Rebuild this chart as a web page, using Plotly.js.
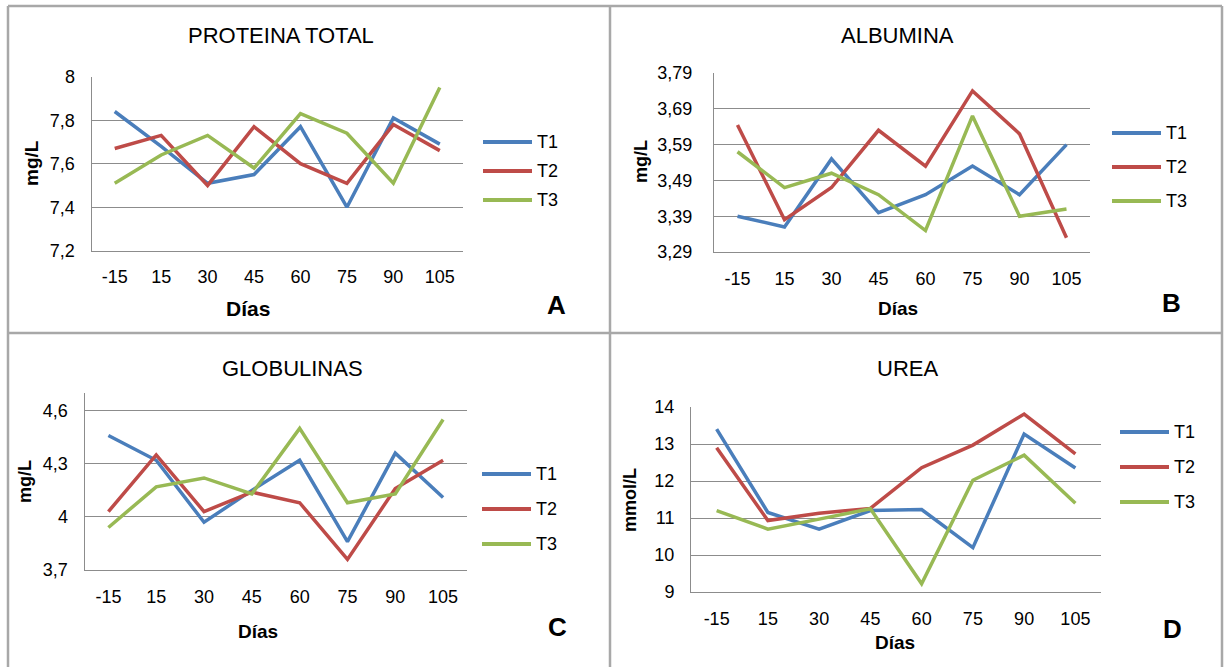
<!DOCTYPE html>
<html>
<head>
<meta charset="utf-8">
<script src="https://cdn.plot.ly/plotly-3.0.1.min.js"></script>
<style>html,body{margin:0;padding:0;background:#fff;}#chart{width:1224px;height:667px;}</style>
</head>
<body>
<div id="chart"></div>
<script>
// ---------- DATA ----------
const days = ['-15', '15', '30', '45', '60', '75', '90', '105'];
const seriesNames = ['T1', 'T2', 'T3'];

const proteinaT1 = [7.84, 7.68, 7.51, 7.55, 7.77, 7.40, 7.81, 7.69];
const proteinaT2 = [7.67, 7.73, 7.50, 7.77, 7.60, 7.51, 7.78, 7.66];
const proteinaT3 = [7.51, 7.64, 7.73, 7.58, 7.83, 7.74, 7.51, 7.95];

const albuminaT1 = [3.39, 3.36, 3.55, 3.40, 3.45, 3.53, 3.45, 3.59];
const albuminaT2 = [3.645, 3.38, 3.47, 3.63, 3.53, 3.74, 3.62, 3.33];
const albuminaT3 = [3.57, 3.47, 3.51, 3.45, 3.35, 3.67, 3.39, 3.41];

const globulinasT1 = [4.46, 4.32, 3.97, 4.15, 4.32, 3.86, 4.36, 4.11];
const globulinasT2 = [4.03, 4.35, 4.03, 4.14, 4.08, 3.76, 4.16, 4.32];
const globulinasT3 = [3.94, 4.17, 4.22, 4.13, 4.50, 4.08, 4.13, 4.55];

const ureaT1 = [13.40, 11.15, 10.70, 11.20, 11.23, 10.20, 13.27, 12.35];
const ureaT2 = [12.90, 10.93, 11.13, 11.26, 12.36, 12.97, 13.81, 12.73];
const ureaT3 = [11.20, 10.70, 10.97, 11.25, 9.22, 12.02, 12.70, 11.40];

const proteinaTickVals = [7.2, 7.4, 7.6, 7.8, 8];
const proteinaTickText = ['7,2', '7,4', '7,6', '7,8', '8'];
const albuminaTickVals = [3.29, 3.39, 3.49, 3.59, 3.69, 3.79];
const albuminaTickText = ['3,29', '3,39', '3,49', '3,59', '3,69', '3,79'];
const globulinasTickVals = [3.7, 4.0, 4.3, 4.6];
const globulinasTickText = ['3,7', '4', '4,3', '4,6'];
const ureaTickVals = [9, 10, 11, 12, 13, 14];
const ureaTickText = ['9', '10', '11', '12', '13', '14'];

const panelTitles = ['PROTEINA TOTAL', 'ALBUMINA', 'GLOBULINAS', 'UREA'];
const yTitles = ['mg/L', 'mg/L', 'mg/L', 'mmol/L'];
const xTitle = 'Días';
const panelLetters = ['A', 'B', 'C', 'D'];

// ---------- STYLE / LAYOUT ----------
const W = 1224, H = 667;
const colors = ['#4A7EBB', '#BE4B48', '#98B954'];
const FONT = 'Liberation Sans, Arial, sans-serif';
const gridColor = '#8c8c8c';
const px = x => x / W;
const py = y => 1 - y / H;

const panels = [
  { series: [proteinaT1, proteinaT2, proteinaT3], range: [7.2, 8], tv: proteinaTickVals, tt: proteinaTickText,
    box: [91.5, 463, 76.7, 250.7], title: [281, 36], xt: [248, 308, 21], yt: [31, 163, 19], letter: [556, 305],
    legend: [483, 532, [142, 171, 200]], ystand: 12 },
  { series: [albuminaT1, albuminaT2, albuminaT3], range: [3.29, 3.79], tv: albuminaTickVals, tt: albuminaTickText,
    box: [714, 1090, 73, 252], title: [898, 36], xt: [898, 308, 19], yt: [641, 162, 18], letter: [1171, 303],
    legend: [1112, 1161, [133, 167, 201]], ystand: 17 },
  { series: [globulinasT1, globulinasT2, globulinasT3], range: [3.7, 4.7], tv: globulinasTickVals, tt: globulinasTickText,
    box: [84.5, 467, 393, 570], title: [292, 368], xt: [258, 631, 19], yt: [25, 482, 18], letter: [557, 627],
    legend: [482, 531, [474, 509, 544]], ystand: 12 },
  { series: [ureaT1, ureaT2, ureaT3], range: [9, 14], tv: ureaTickVals, tt: ureaTickText,
    box: [691, 1101, 407, 592], title: [907, 368], xt: [895, 642, 19], yt: [630, 500, 18], letter: [1172, 629],
    legend: [1120, 1169, [432, 467, 502]], ystand: 12 }
];

const traces = [];
const layout = {
  width: W, height: H,
  margin: { l: 0, r: 0, t: 0, b: 0 },
  paper_bgcolor: '#ffffff', plot_bgcolor: '#ffffff',
  showlegend: false,
  font: { family: FONT, color: '#000000', size: 18 },
  annotations: [],
  shapes: []
};

panels.forEach((p, i) => {
  const n = i + 1;
  const xa = n === 1 ? 'x' : 'x' + n;
  const ya = n === 1 ? 'y' : 'y' + n;
  p.series.forEach((vals, s) => {
    traces.push({
      type: 'scatter', mode: 'lines', x: days, y: vals, name: seriesNames[s],
      xaxis: xa, yaxis: ya,
      line: { color: colors[s], width: 3.5 },
      hoverinfo: 'skip'
    });
  });
  layout['xaxis' + (n === 1 ? '' : n)] = {
    domain: [px(p.box[0]), px(p.box[1])],
    anchor: ya, type: 'category', range: [-0.5, 7.5],
    showgrid: false, zeroline: false, showline: true, linecolor: gridColor, linewidth: 1,
    ticks: '', tickfont: { family: FONT, size: 18, color: '#000' }, ticklabelstandoff: 10,
    fixedrange: true
  };
  layout['yaxis' + (n === 1 ? '' : n)] = {
    domain: [py(p.box[3]), py(p.box[2])],
    anchor: xa, range: p.range, tickvals: p.tv, ticktext: p.tt,
    showgrid: true, gridcolor: gridColor, gridwidth: 1,
    zeroline: false, showline: true, linecolor: gridColor, linewidth: 1,
    ticks: '', tickfont: { family: FONT, size: 18, color: '#000' }, ticklabelstandoff: p.ystand,
    fixedrange: true
  };
  // titles
  layout.annotations.push({ xref: 'paper', yref: 'paper', x: px(p.title[0]), y: py(p.title[1]),
    text: panelTitles[i], showarrow: false, xanchor: 'center', yanchor: 'middle',
    font: { family: FONT, size: 22, color: '#000' } });
  layout.annotations.push({ xref: 'paper', yref: 'paper', x: px(p.xt[0]), y: py(p.xt[1]),
    text: '<b>' + xTitle + '</b>', showarrow: false, xanchor: 'center', yanchor: 'middle',
    font: { family: FONT, size: p.xt[2], color: '#000' } });
  layout.annotations.push({ xref: 'paper', yref: 'paper', x: px(p.yt[0]), y: py(p.yt[1]),
    text: '<b>' + yTitles[i] + '</b>', showarrow: false, textangle: -90, xanchor: 'center', yanchor: 'middle',
    font: { family: FONT, size: p.yt[2], color: '#000' } });
  layout.annotations.push({ xref: 'paper', yref: 'paper', x: px(p.letter[0]), y: py(p.letter[1]),
    text: '<b>' + panelLetters[i] + '</b>', showarrow: false, xanchor: 'center', yanchor: 'middle',
    font: { family: FONT, size: 26, color: '#000' } });
  // legend
  seriesNames.forEach((name, s) => {
    const yy = py(p.legend[2][s]);
    layout.shapes.push({ type: 'line', xref: 'paper', yref: 'paper',
      x0: px(p.legend[0]), x1: px(p.legend[1]), y0: yy, y1: yy,
      line: { color: colors[s], width: 4 } });
    layout.annotations.push({ xref: 'paper', yref: 'paper', x: px(p.legend[1] + 3), y: yy,
      text: name, showarrow: false, xanchor: 'left', yanchor: 'middle',
      font: { family: FONT, size: 18, color: '#000' } });
  });
});

// panel frame lines
const frameColor = '#a8a8a8';
const frame = [
  [8, 6, 8, 667], [8, 6, 1222, 6], [1222, 6, 1222, 667], [610, 6, 610, 667], [8, 333, 1222, 333]
];
frame.forEach(f => layout.shapes.push({ type: 'line', xref: 'paper', yref: 'paper',
  x0: px(f[0]), y0: py(f[1]), x1: px(f[2]), y1: py(f[3]), line: { color: frameColor, width: 2.5 } }));

Plotly.newPlot('chart', traces, layout, { staticPlot: true, displayModeBar: false });
</script>
</body>
</html>
